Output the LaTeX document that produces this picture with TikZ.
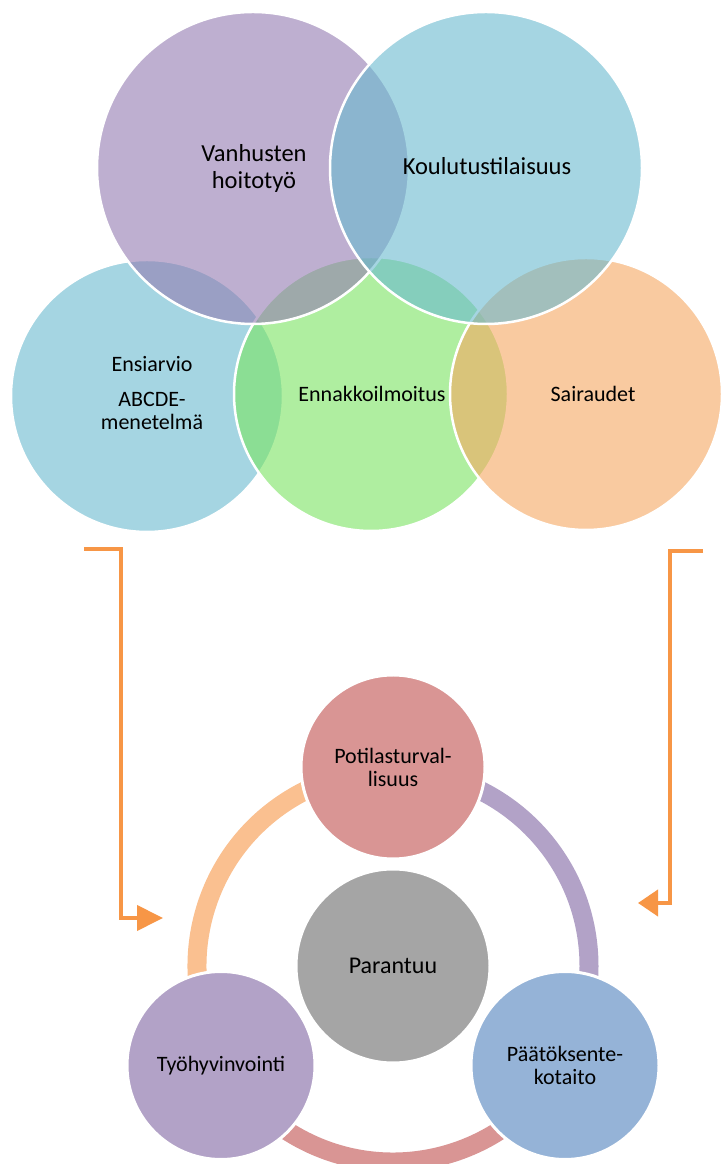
\documentclass[tikz,border=0pt]{standalone}
\usepackage{fontspec}
\setmainfont{Carlito}
\usetikzlibrary{arrows.meta}
\definecolor{cblue}{RGB}{105,185,207}
\definecolor{cpurple}{RGB}{147,123,177}
\definecolor{cgreen}{RGB}{123,228,97}
\definecolor{corange}{RGB}{245,168,97}
\definecolor{arrorange}{RGB}{247,150,70}
\definecolor{rorange}{RGB}{250,192,144}
\definecolor{rpurple}{RGB}{178,162,199}
\definecolor{rpink}{RGB}{217,149,148}
\definecolor{cbluec}{RGB}{149,179,215}
\definecolor{cgray}{RGB}{165,165,165}
\begin{document}
\begin{tikzpicture}[x=1pt,y=1pt,
  venn/.style={circle, draw=white, line width=2.5pt, fill opacity=0.6, draw opacity=1, inner sep=0pt, minimum size=#1},
  lbl/.style={font=\fontsize{22}{23}\selectfont, align=center, text=black, inner sep=0pt},
  biglbl/.style={lbl, font=\fontsize{24.5}{27}\selectfont},
  cyc/.style={circle, draw=white, line width=3pt, inner sep=0pt, minimum size=#1, font=\fontsize{22}{23}\selectfont, align=center, text=black},
  ringseg/.style={line width=19pt},
  arr/.style={draw=arrorange, line width=4pt, line join=miter}
]
\useasboundingbox (0,0) rectangle (721,1164);
\fill[white] (0,0) rectangle (721,1164);

% Venn-like circles (top)
\node[venn=272pt, fill=cblue]   (lb) at (147,768) {};
\node[venn=274pt, fill=cgreen]  (gr) at (371,770) {};
\node[venn=272pt, fill=corange] (or) at (586,770) {};
\node[venn=312pt, fill=cpurple] (pu) at (253,996) {};
\node[venn=312pt, fill=cblue]   (tb) at (486,996) {};

\node[biglbl] (lpu) at (254,996) {Vanhusten\\hoitotyö};
\node[biglbl] (ltb) at (487,998) {Koulutustilaisuus};
\node[lbl] (llb) at (152,771) {Ensiarvio\\[12pt]ABCDE-\\menetelmä};
\node[lbl] (lgr) at (372,770) {Ennakkoilmoitus};
\node[lbl] (lor) at (593,770) {Sairaudet};

% cycle (bottom)
\coordinate (rc) at (393,198);
\draw[ringseg, rpurple] (rc) ++(90:196) arc[start angle=90, end angle=-30, radius=196];
\draw[ringseg, rpink] (rc) ++(-30:196) arc[start angle=-30, end angle=-150, radius=196];
\draw[ringseg, rorange] (rc) ++(210:196) arc[start angle=210, end angle=90, radius=196];

\node[cyc=194pt, fill=cgray, font=\fontsize{24}{25}\selectfont] (par) at (rc) {Parantuu};
\node[cyc=184pt, fill=rpink]   (pot) at (393,397) {Potilasturval-\\lisuus};
\node[cyc=188pt, fill=rpurple] (tyo) at (221,98.5) {Työhyvinvointi};
\node[cyc=188pt, fill=cbluec]  (paa) at (565,98.5) {Päätöksente-\\kotaito};

% arrows
\coordinate (a1) at (84,615);
\coordinate (a2) at (121,615);
\coordinate (a3) at (121,246);
\coordinate (a4) at (163,246);
\draw[arr, -{Triangle[length=26pt,width=25pt]}] (a1) -- (a2) -- (a3) -- (a4);
\coordinate (b1) at (703,613);
\coordinate (b2) at (670,613);
\coordinate (b3) at (670,261);
\coordinate (b4) at (638,261);
\draw[arr, -{Triangle[length=20pt,width=26pt]}] (b1) -- (b2) -- (b3) -- (b4);
\end{tikzpicture}
\end{document}
